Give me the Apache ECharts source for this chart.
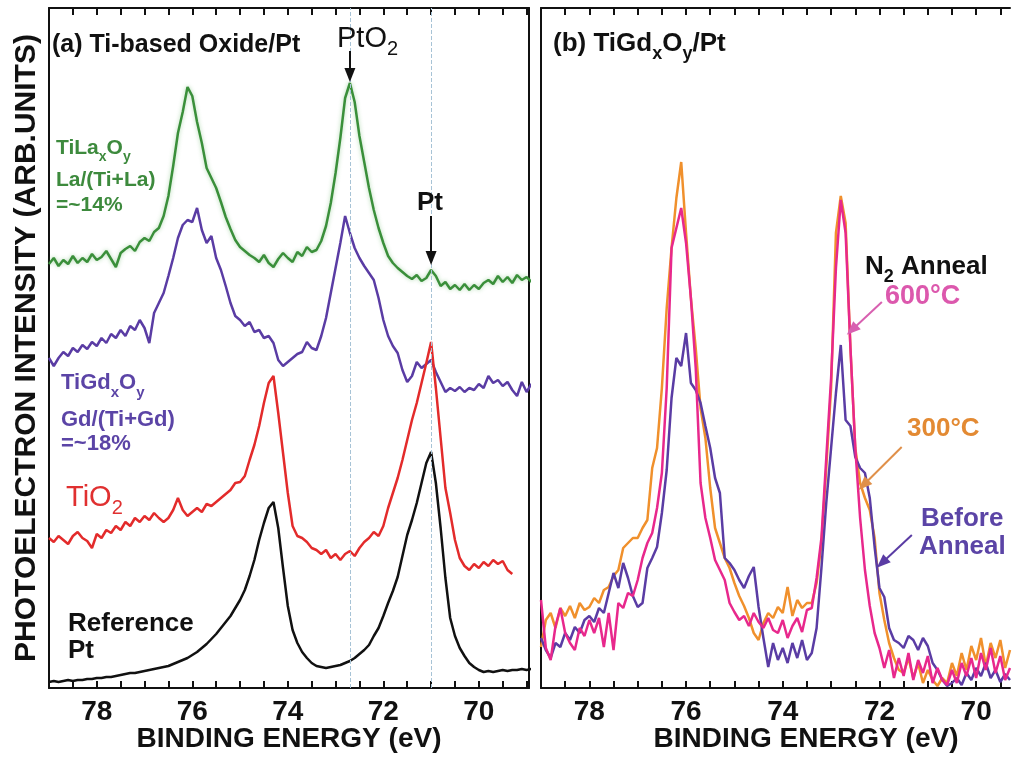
<!DOCTYPE html>
<html><head><meta charset="utf-8">
<script src="https://cdn.jsdelivr.net/npm/echarts@6/dist/echarts.min.js"></script>
<style>html,body{margin:0;padding:0;background:#fff}#chart{width:1012px;height:760px}</style>
</head><body><div id="chart"></div>
<script>
// ---------- Panel (a): binding energy grid (eV) ----------
const energyA = [
79.0,78.9,78.8,78.7,78.6,78.5,78.4,78.3,78.2,78.1,
78.0,77.9,77.8,77.7,77.6,77.5,77.4,77.3,77.2,77.1,
77.0,76.9,76.8,76.7,76.6,76.5,76.4,76.3,76.2,76.1,
76.0,75.9,75.8,75.7,75.6,75.5,75.4,75.3,75.2,75.1,
75.0,74.9,74.8,74.7,74.6,74.5,74.4,74.3,74.2,74.1,
74.0,73.9,73.8,73.7,73.6,73.5,73.4,73.3,73.2,73.1,
73.0,72.9,72.8,72.7,72.6,72.5,72.4,72.3,72.2,72.1,
72.0,71.9,71.8,71.7,71.6,71.5,71.4,71.3,71.2,71.1,
71.0,70.9,70.8,70.7,70.6,70.5,70.4,70.3,70.2,70.1,
70.0,69.9,69.8,69.7,69.6,69.5,69.4,69.3,69.2,69.1,
69.0,68.9];

// intensities (arb. units, offset spectra)
const tiLaOxide = [
424,430,422,428,424,432,425,430,426,434,
428,431,437,429,421,435,439,442,437,446,
450,447,456,460,472,492,522,555,576,601,
592,566,545,520,510,500,486,471,459,448,
441,437,433,430,426,433,425,421,429,435,
430,426,436,432,441,436,438,447,462,485,
515,550,590,605,586,552,526,500,478,460,
445,432,425,420,416,412,409,413,407,410,
418,412,402,406,399,403,398,404,398,403,
399,405,408,404,412,406,411,405,413,408,
411,406];

const tiGdOxide = [
330,322,330,336,332,340,336,343,339,346,
342,350,345,354,350,358,352,362,358,368,
360,345,375,385,395,412,430,450,463,468,
466,480,458,445,452,430,418,402,385,372,
368,362,366,356,358,350,352,345,328,322,
326,330,334,336,346,340,338,352,370,395,
420,445,472,455,440,430,422,415,408,390,
368,352,342,335,318,306,312,326,320,324,
328,316,306,296,300,297,301,296,300,298,
304,300,312,305,308,302,306,298,292,306,
296,304];

const tiO2 = [
150,146,152,148,144,152,156,150,147,140,
154,150,158,155,162,158,166,162,170,166,
172,168,175,170,166,170,178,190,178,172,
176,180,176,184,182,186,190,194,198,205,
206,212,228,243,262,285,305,312,275,235,
195,162,152,150,146,140,138,134,138,130,
134,128,134,137,132,140,146,150,156,152,
162,180,195,210,228,248,268,285,305,325,
346,300,250,200,175,148,130,122,118,124,
120,126,122,128,124,127,118,114,null,null,
null,null];

const referencePt = [
6,7,6,7,8,7,8,8,9,9,
10,10,11,11,12,13,14,15,15,16,
17,18,19,20,21,22,24,26,28,30,
33,36,40,44,49,54,60,66,72,80,
88,98,112,128,148,165,180,186,160,120,
82,58,45,36,30,25,22,21,20,21,
22,23,25,27,30,34,38,43,52,60,
72,85,97,111,132,153,168,185,205,225,
236,205,160,110,70,52,40,32,25,21,
18,16,17,16,17,18,17,18,18,19,
18,19];

// ---------- Panel (b) ----------
const energyB = [
79.0,78.9,78.8,78.7,78.6,78.5,78.4,78.3,78.2,78.1,
78.0,77.9,77.8,77.7,77.6,77.5,77.4,77.3,77.2,77.1,
77.0,76.9,76.8,76.7,76.6,76.5,76.4,76.3,76.2,76.1,
76.0,75.9,75.8,75.7,75.6,75.5,75.4,75.3,75.2,75.1,
75.0,74.9,74.8,74.7,74.6,74.5,74.4,74.3,74.2,74.1,
74.0,73.9,73.8,73.7,73.6,73.5,73.4,73.3,73.2,73.1,
73.0,72.9,72.8,72.7,72.6,72.5,72.4,72.3,72.2,72.1,
72.0,71.9,71.8,71.7,71.6,71.5,71.4,71.3,71.2,71.1,
71.0,70.9,70.8,70.7,70.6,70.5,70.4,70.3,70.2,70.1,
70.0,69.9,69.8,69.7,69.6,69.5,69.4,69.3];

const anneal300 = [
41,68,75,60,80,72,82,70,85,78,
81,90,85,98,101,112,118,140,145,150,
150,160,168,220,240,300,380,440,490,526,
455,390,340,280,250,200,160,145,130,120,
105,92,82,70,55,48,65,75,70,81,
75,101,72,88,80,85,85,105,145,220,
300,455,492,465,340,240,205,190,178,150,
95,68,45,30,18,15,30,10,25,5,
18,8,2,10,5,25,12,35,18,42,
28,50,22,45,30,48,20,38];

const beforeAnneal = [
50,38,30,45,41,55,48,61,55,68,
72,66,80,75,95,115,100,125,110,92,
81,85,120,130,141,175,218,290,330,322,
355,305,298,285,262,240,210,195,130,125,
118,108,100,112,121,81,50,21,45,28,
40,25,45,30,48,28,35,60,120,185,
240,295,343,268,262,231,220,215,190,141,
100,91,60,48,45,40,52,48,38,50,
42,25,18,8,2,5,10,3,15,8,
20,12,25,10,18,6,14,8];

const anneal600 = [
88,40,28,62,80,55,45,38,60,52,
68,55,70,41,75,38,85,80,95,92,
108,130,145,155,180,215,300,440,460,480,
445,390,320,205,170,150,128,118,108,85,
76,68,72,62,75,66,60,70,58,55,
68,50,62,70,56,78,80,110,150,230,
310,420,488,455,340,240,170,118,82,55,
40,20,38,10,30,12,35,8,28,15,
32,5,20,8,3,18,5,25,12,30,
10,35,18,40,15,32,8,20];

// ---------- axis ticks / labels ----------
const majorLabels = [70, 72, 74, 76, 78];
const ticksA = [69,69.5,70,70.5,71,71.5,72,72.5,73,73.5,74,74.5,75,75.5,76,76.5,77,77.5,78,78.5,79];
const ticksB = [69.5,70,70.5,71,71.5,72,72.5,73,73.5,74,74.5,75,75.5,76,76.5,77,77.5,78,78.5];
const peakLines = [72.7, 71.0];  // PtO2 and Pt reference positions

const FONT = "'Liberation Sans', Arial, Helvetica, sans-serif";
const C = {
  green:'#3a8f3a', purple:'#5a3ca4', red:'#e32b2b', black:'#111111',
  orange:'#f0902c', magenta:'#e8288c',
  greenTxt:'#3d8a3d', purpleTxt:'#5b44a6', redTxt:'#e03030',
  pinkTxt:'#dc58ad', orangeTxt:'#e38a33'
};
const zip = (xs, ys) => xs.map((x, i) => [x, ys[i]]);

function xAx(grid, pos, min, max, ticks, withLabels, name, namePad) {
  return {
    type:'value', gridIndex:grid, position:pos, min, max, inverse:true,
    axisLine:{show:true, onZero:false, lineStyle:{color:'#111', width:2}},
    axisTick:{show:true, inside:true, length:7, customValues:ticks, lineStyle:{color:'#111', width:2}},
    axisLabel:{show:withLabels, customValues:majorLabels, fontSize:28, fontWeight:'bold', color:'#111', fontFamily:FONT, margin:10},
    splitLine:{show:false},
    name: name || '', nameLocation:'middle', nameGap:37, nameMoveOverlap:false,
    nameTextStyle:{fontSize:28, fontWeight:'bold', color:'#111', fontFamily:FONT, padding: namePad || 0}
  };
}
function yAx(grid, pos, name) {
  return {
    type:'value', gridIndex:grid, position:pos, min:0, max:680,
    axisLine:{show:true, lineStyle:{color:'#111', width:2}},
    axisTick:{show:false}, axisLabel:{show:false}, splitLine:{show:false},
    name: name || '', nameLocation:'middle', nameGap:7, nameMoveOverlap:false,
    nameTextStyle:{fontSize:30, fontWeight:'bold', color:'#111', fontFamily:FONT}
  };
}
function line(name, xs, ys, color, xi, yi, extra) {
  return Object.assign({
    name, type:'line', xAxisIndex:xi, yAxisIndex:yi, data:zip(xs, ys),
    symbol:'none', showSymbol:false, connectNulls:false, silent:true,
    lineStyle:{color, width:2.5}, itemStyle:{color}, z:3
  }, extra || {});
}
function arrow(from, to, color) {
  return {
    silent:true, animation:false, label:{show:false}, emphasis:{disabled:true},
    lineStyle:{color, width:2, type:'solid'},
    symbol:['none','triangle'], symbolSize:13,
    itemStyle:{color},
    data:[[
      {coord:from, symbol:'none', symbolSize:1},
      {coord:to, symbol:'triangle', symbolSize:[11, 14], itemStyle:{color}}
    ]]
  };
}
function txt(x, y, text, color, size, weight) {
  const subSize = Math.round(size * 0.68);
  return {
    type:'text', x, y, z:100, silent:true,
    style:{
      text, fill:color, fontSize:size, fontWeight:weight, fontFamily:FONT,
      align:'left', verticalAlign:'middle', lineHeight:size + 12,
      rich:{
        s:{fill:color, fontSize:subSize, fontWeight:weight, fontFamily:FONT, verticalAlign:'bottom'}
      }
    }
  };
}

const chart = echarts.init(document.getElementById('chart'), null, {renderer:'canvas'});
chart.setOption({
  animation:false,
  backgroundColor:'#ffffff',
  grid:[
    {left:49, top:8, width:480, height:680},
    {left:541, top:8, width:469, height:680}
  ],
  xAxis:[
    xAx(0, 'bottom', 68.95, 79, ticksA, true, 'BINDING ENERGY (eV)'),
    xAx(0, 'top', 68.95, 79, ticksA, false),
    xAx(1, 'bottom', 69.3, 79, ticksB, true, 'BINDING ENERGY (eV)', [0,0,0,61]),
    xAx(1, 'top', 69.3, 79, ticksB, false)
  ],
  yAxis:[
    yAx(0, 'left', 'PHOTOELECTRON INTENSITY (ARB.UNITS)'),
    yAx(0, 'right'),
    yAx(1, 'left')
  ],
  series:[
    line('Reference Pt', energyA, referencePt, C.black, 0, 0, {
      markLine:{
        silent:true, animation:false, label:{show:false}, emphasis:{disabled:true},
        symbol:['none','none'],
        lineStyle:{color:'#a7c3d6', width:1, type:'dashed'},
        data: peakLines.map(v => ({xAxis:v}))
      }
    }),
    line('TiGdxOy', energyA, tiGdOxide, C.purple, 0, 0, {
      markLine: arrow([72.7, 637], [72.7, 613], '#111')
    }),
    line('TiO2', energyA, tiO2, C.red, 0, 0, {
      markLine: arrow([71.0, 472], [71.0, 430], '#111')
    }),
    line('TiLaxOy', energyA, tiLaOxide, C.green, 0, 0, {
      lineStyle:{color:C.green, width:2.5, shadowColor:'rgba(80,170,80,0.45)', shadowBlur:4}
    }),
    line('300°C', energyB, anneal300, C.orange, 2, 2, {
      markLine: arrow([71.54, 241], [72.33, 203], '#e0904a')
    }),
    line('Before Anneal', energyB, beforeAnneal, C.purple, 2, 2, {
      markLine: arrow([71.33, 153], [71.95, 125], C.purple)
    }),
    line('600°C', energyB, anneal600, C.magenta, 2, 2, {
      markLine: arrow([71.95, 386], [72.57, 358], '#d860b0')
    })
  ],
  graphic:[
    txt(52, 45, '(a) Ti-based Oxide/Pt', '#111', 25, 'bold'),
    txt(337, 39, 'PtO{s|2}', '#111', 29, 'normal'),
    txt(417, 203, 'Pt', '#111', 26, 'bold'),
    txt(56, 148, 'TiLa{s|x}O{s|y}', C.greenTxt, 21, 'bold'),
    txt(56, 180, 'La/(Ti+La)', C.greenTxt, 21, 'bold'),
    txt(56, 205, '=~14%', C.greenTxt, 21, 'bold'),
    txt(61, 383, 'TiGd{s|x}O{s|y}', C.purpleTxt, 22, 'bold'),
    txt(61, 420, 'Gd/(Ti+Gd)', C.purpleTxt, 22, 'bold'),
    txt(61, 444, '=~18%', C.purpleTxt, 22, 'bold'),
    txt(66, 498, 'TiO{s|2}', C.redTxt, 29, 'normal'),
    txt(68, 624, 'Reference', '#111', 26, 'bold'),
    txt(68, 651, 'Pt', '#111', 26, 'bold'),
    txt(553, 44, '(b) TiGd{s|x}O{s|y}/Pt', '#111', 26, 'bold'),
    txt(865, 267, 'N{s|2} Anneal', '#111', 26, 'bold'),
    txt(885, 297, '600°C', C.pinkTxt, 27, 'bold'),
    txt(907, 429, '300°C', C.orangeTxt, 26, 'bold'),
    txt(921, 519, 'Before', C.purpleTxt, 26, 'bold'),
    txt(919, 547, 'Anneal', C.purpleTxt, 26, 'bold')
  ]
});
</script></body></html>
